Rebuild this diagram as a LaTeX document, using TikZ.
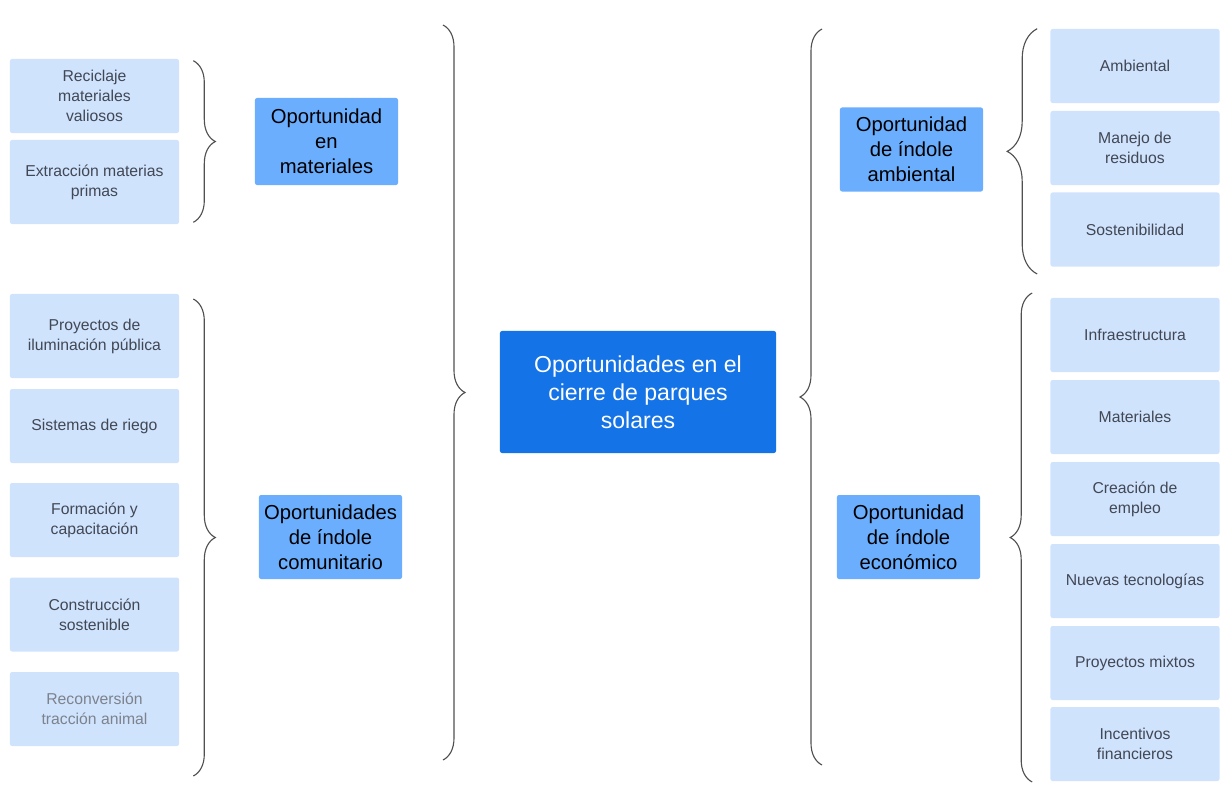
\documentclass[tikz,border=0pt]{standalone}
\usepackage{fontspec}
\setmainfont{Liberation Sans}
\usetikzlibrary{decorations.pathreplacing}

\definecolor{leafblue}{RGB}{207,227,253}
\definecolor{groupblue}{RGB}{106,174,253}
\definecolor{mainblue}{RGB}{20,115,230}
\definecolor{leaftext}{RGB}{66,71,84}
\definecolor{fadedtext}{RGB}{125,130,140}
\definecolor{bracegray}{RGB}{80,80,80}

\begin{document}
\begin{tikzpicture}[x=0.025cm, y=-0.025cm,
    leaf/.style={fill=leafblue, rounded corners=1.5pt, text=leaftext, align=center,
      minimum width=4.225cm, minimum height=1.85cm, font=\fontsize{11.2}{14.2}\selectfont},
    group/.style={fill=groupblue, rounded corners=1.5pt, align=center,
      minimum width=3.575cm, minimum height=2.1cm, font=\fontsize{14.4}{17.8}\selectfont},
    bracket/.style={decorate, decoration={brace, amplitude=0.55cm}, draw=bracegray, line width=0.8pt}]
    \useasboundingbox (0,0) rectangle (1232,792);

    % centre
    \node [fill=mainblue, rounded corners=1.5pt, text=white, align=center,
           minimum width=6.9cm, minimum height=3.05cm,
           font=\fontsize{16.4}{19.9}\selectfont] (main) at (638, 392)
          {Oportunidades en el\\cierre de parques\\solares};

    % groups
    \node [group, minimum height=2.175cm] (mat) at (326.5, 141.5) {Oportunidad\\en\\materiales};
    \node [group] (com) at (330.5, 537) {Oportunidades\\de índole\\comunitario};
    \node [group] (amb) at (911.5, 149.5) {Oportunidad\\de índole\\ambiental};
    \node [group] (eco) at (908.5, 537) {Oportunidad\\de índole\\económico};

    % left leaves
    \node [leaf] (rec) at (94.5, 96) {Reciclaje\\materiales\\valiosos};
    \node [leaf, minimum height=2.1cm] (ext) at (94.5, 182) {Extracción materias\\primas};
    \node [leaf, minimum height=2.1cm] (ilu) at (94.5, 336) {Proyectos de\\iluminación pública};
    \node [leaf] (rie) at (94.5, 426) {Sistemas de riego};
    \node [leaf] (for) at (94.5, 520) {Formación y\\capacitación};
    \node [leaf] (con) at (94.5, 614.5) {Construcción\\sostenible};
    \node [leaf, text=fadedtext] (tra) at (94.5, 709) {Reconversión\\tracción animal};

    % right leaves
    \node [leaf] (amb1) at (1135, 66) {Ambiental};
    \node [leaf] (amb2) at (1135, 148) {Manejo de\\residuos};
    \node [leaf] (amb3) at (1135, 229.5) {Sostenibilidad};
    \node [leaf] (eco1) at (1135, 335) {Infraestructura};
    \node [leaf] (eco2) at (1135, 417) {Materiales};
    \node [leaf] (eco3) at (1135, 499) {Creación de\\empleo};
    \node [leaf] (eco4) at (1135, 581) {Nuevas tecnologías};
    \node [leaf] (eco5) at (1135, 663) {Proyectos mixtos};
    \node [leaf] (eco6) at (1135, 744) {Incentivos\\financieros};

    % brace ends
    \coordinate (lt) at (443, 25);
    \coordinate (lb) at (443, 760);
    \coordinate (rt) at (822, 29);
    \coordinate (rb) at (822, 765);

    % braces
    \draw [bracket] ([xshift=0.35cm, yshift=-0.05cm]rec.north east) -- ([xshift=0.35cm, yshift=0.05cm]ext.south east);
    \draw [bracket] ([xshift=0.35cm]ilu.north east |- 0,299) -- ([xshift=0.35cm]tra.south east |- 0,776);
    \draw [bracket] (lt) -- (lb);
    \draw [bracket] (rb) -- (rt);
    \draw [bracket, decoration={amplitude=0.75cm}] ([xshift=-0.325cm]amb3.south west |- 0,274) -- ([xshift=-0.325cm]amb1.north west);
    \draw [bracket] ([xshift=-0.45cm]eco6.south west |- 0,782) -- ([xshift=-0.45cm]eco1.north west |- 0,293);
  \end{tikzpicture}
\end{document}
